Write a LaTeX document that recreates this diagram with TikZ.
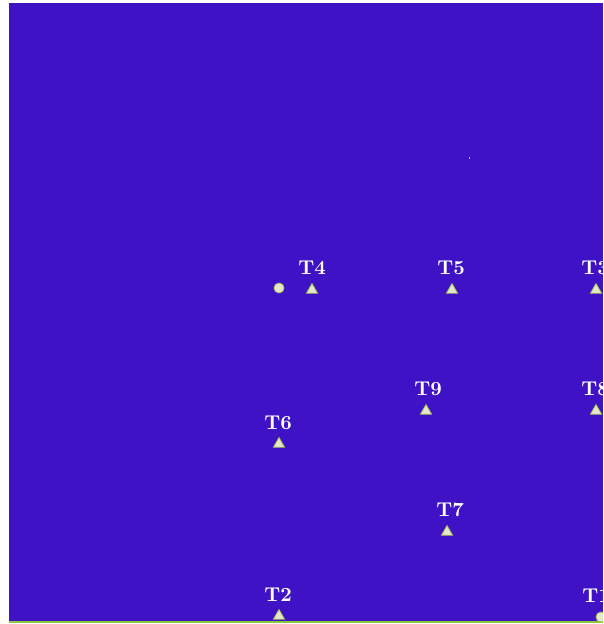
\documentclass[tikz,border=0pt]{standalone}
\usepackage{tikz}
\usetikzlibrary{shapes.geometric}
\definecolor{fieldBlue}{HTML}{3F12C6}
\definecolor{markFill}{HTML}{E6E6CE}
\definecolor{markEdge}{HTML}{A6C84E}
\definecolor{edgeGreen}{HTML}{8CC63F}

\tikzset{
  siteTri/.style={regular polygon, regular polygon sides=3, fill=markFill, draw=markEdge,
    line width=0.4pt, inner sep=0pt, minimum size=6.4pt},
  siteDot/.style={circle, fill=markFill, draw=markEdge, line width=0.4pt, inner sep=0pt, minimum size=5pt},
  siteName/.style={text=white, font=\bfseries, inner sep=0pt}
}

\begin{document}
\begin{tikzpicture}[x=0.5pt, y=-0.5pt]
        \useasboundingbox (0,0) rectangle (603,624);
        \fill[fieldBlue] (9,3) rectangle (603,621);
        \draw[edgeGreen, line width=1pt] (9,621.5) -- (603,621.5);
        \begin{scope}
          \clip (9,3) rectangle (603,621);
          \fill[markFill!70!fieldBlue] (468.5,157.5) rectangle (470,159);
          \node[siteDot] (well) at (279,288) {};
          \foreach \n/\x/\y/\lx/\ly in {4/312/290/312/268, 5/452/290/451/268, 3/596/290/595/268,
              9/426/411/428/389, 8/596/411/595/389, 6/279/444/278/423,
              7/447/532/450/510, 2/279/616/278/595} {
            \node[siteTri] (t\n) at (\x,\y) {};
            \node[siteName] (l\n) at (\lx,\ly) {T\n};
          }
          \node[siteDot] (t1) at (601,617) {};
          \node[siteName] (l1) at (596,596) {T1};
        \end{scope}
      \end{tikzpicture}
\end{document}
